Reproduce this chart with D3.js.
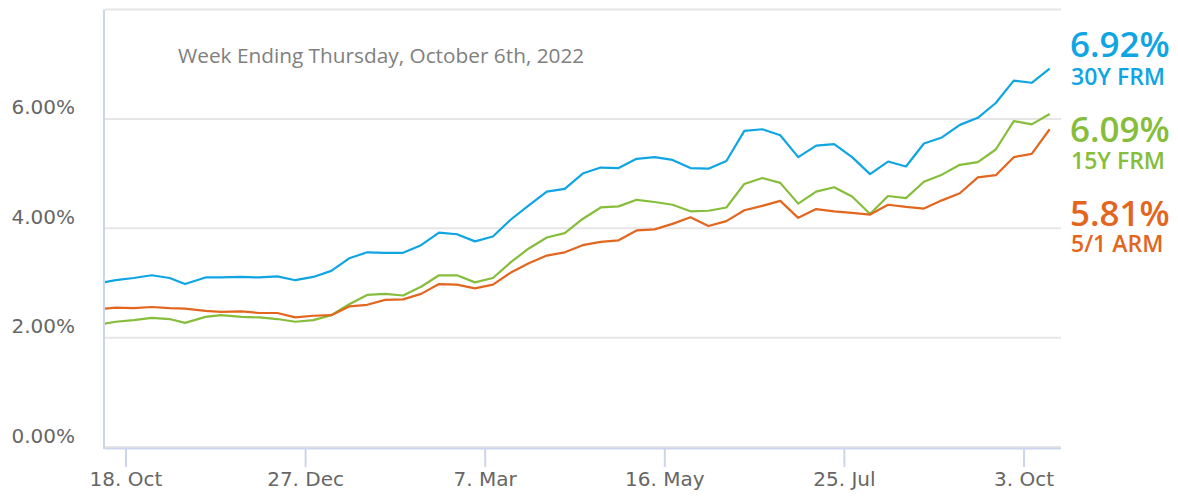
<!DOCTYPE html>
<html>
<head>
<meta charset="utf-8">
<script src="https://cdn.jsdelivr.net/npm/d3@7"></script>
<style>
  html, body { margin: 0; padding: 0; background: #fff; }
  svg { display: block; }
</style>
</head>
<body>
<svg id="chart" width="1178" height="500"></svg>
<script>
// ---- DATA ----
const dates = [
  "2021-10-07","2021-10-14","2021-10-21","2021-10-28","2021-11-04","2021-11-10","2021-11-18","2021-11-24",
  "2021-12-02","2021-12-09","2021-12-16","2021-12-23","2021-12-30","2022-01-06","2022-01-13","2022-01-20",
  "2022-01-27","2022-02-03","2022-02-10","2022-02-17","2022-02-24","2022-03-03","2022-03-10","2022-03-17",
  "2022-03-24","2022-03-31","2022-04-07","2022-04-14","2022-04-21","2022-04-28","2022-05-05","2022-05-12",
  "2022-05-19","2022-05-26","2022-06-02","2022-06-09","2022-06-16","2022-06-23","2022-06-30","2022-07-07",
  "2022-07-14","2022-07-21","2022-07-28","2022-08-04","2022-08-11","2022-08-18","2022-08-25","2022-09-01",
  "2022-09-08","2022-09-15","2022-09-22","2022-09-29","2022-10-06","2022-10-13"
];
const frm30 = [
  2.99,3.05,3.09,3.14,3.09,2.98,3.10,3.10,3.11,3.10,3.12,3.05,3.11,3.22,
  3.45,3.56,3.55,3.55,3.69,3.92,3.89,3.76,3.85,4.16,4.42,4.67,4.72,5.00,5.11,
  5.10,5.27,5.30,5.25,5.10,5.09,5.23,5.78,5.81,5.70,5.30,5.51,5.54,5.30,4.99,
  5.22,5.13,5.55,5.66,5.89,6.02,6.29,6.70,6.66,6.92
];
const frm15 = [
  2.23,2.29,2.32,2.36,2.34,2.27,2.38,2.41,2.38,2.37,2.34,2.29,2.32,2.41,
  2.61,2.78,2.80,2.77,2.93,3.14,3.14,3.01,3.09,3.38,3.63,3.83,3.91,4.17,4.38,
  4.40,4.52,4.48,4.43,4.31,4.32,4.38,4.81,4.92,4.83,4.45,4.67,4.75,4.58,4.26,
  4.59,4.55,4.85,4.98,5.16,5.21,5.44,5.96,5.90,6.09
];
const arm51 = [
  2.52,2.55,2.54,2.56,2.54,2.53,2.49,2.47,2.48,2.45,2.45,2.37,2.40,2.41,
  2.57,2.60,2.69,2.70,2.80,2.98,2.97,2.90,2.97,3.19,3.36,3.50,3.56,3.69,3.75,
  3.78,3.96,3.98,4.08,4.20,4.04,4.13,4.33,4.41,4.50,4.19,4.35,4.31,4.28,4.25,
  4.43,4.39,4.36,4.51,4.64,4.93,4.97,5.30,5.36,5.81
];
const seriesNames = ["30Y FRM", "15Y FRM", "5/1 ARM"];
const latestLabels = ["6.92%", "6.09%", "5.81%"];
const xTickDates = ["2021-10-18","2021-12-27","2022-03-07","2022-05-16","2022-07-25","2022-10-03"];
const xTickLabels = ["18. Oct","27. Dec","7. Mar","16. May","25. Jul","3. Oct"];
const yTicks = [0, 2, 4, 6, 8];
const yLabelTicks = [0, 2, 4, 6];
const titleText = "Week Ending Thursday, October 6th, 2022";

// ---- STYLE ----
const colors = ["#0fa5e3", "#86bd3b", "#e2661e"];
const plotLeft = 105, plotRight = 1061, plotTop = 9.5, plotBottom = 447;

const parse = d3.timeParse("%Y-%m-%d");
const svg = d3.select("#chart");

const x = d3.scaleTime()
  .domain([new Date(2021, 9, 9, 19, 35), new Date(2022, 9, 17, 10, 5)])
  .range([plotLeft, plotRight]);
const y = d3.scaleLinear().domain([0, 8]).range([plotBottom, plotTop]);

// gridlines
svg.append("g").selectAll("line").data(yTicks).join("line")
  .attr("x1", plotLeft).attr("x2", plotRight)
  .attr("y1", d => y(d)).attr("y2", d => y(d))
  .attr("stroke", "#e6e6e6").attr("stroke-width", 2);

// y labels
svg.append("g").selectAll("text").data(yLabelTicks).join("text")
  .attr("x", 75).attr("y", d => y(d) - 4.5)
  .attr("text-anchor", "end")
  .attr("font-family", "DejaVu Sans, sans-serif").attr("font-size", 20)
  .attr("fill", "#666666")
  .text(d => d3.format(".2f")(d) + "%");

// y axis line
svg.append("line").attr("x1", 104).attr("x2", 104).attr("y1", plotTop).attr("y2", plotBottom + 2)
  .attr("stroke", "#ccd6eb").attr("stroke-width", 2);

// x axis line
svg.append("line").attr("x1", plotLeft).attr("x2", plotRight).attr("y1", plotBottom + 1.5).attr("y2", plotBottom + 1.5)
  .attr("stroke", "#ccd6eb").attr("stroke-width", 2);

// x ticks + labels
const xg = svg.append("g");
xTickDates.forEach((d, i) => {
  const px = x(parse(d));
  xg.append("line").attr("x1", px).attr("x2", px).attr("y1", plotBottom + 2).attr("y2", 467)
    .attr("stroke", "#ccd6eb").attr("stroke-width", 2);
  xg.append("text").attr("x", px).attr("y", 486)
    .attr("text-anchor", "middle")
    .attr("font-family", "DejaVu Sans, sans-serif").attr("font-size", 20)
    .attr("fill", "#666666")
    .text(xTickLabels[i]);
});

// title
svg.append("text").attr("x", 178).attr("y", 63)
  .attr("font-family", "Open Sans, sans-serif").attr("font-size", 20.8)
  .attr("fill", "#808080")
  .text(titleText);

// clip
svg.append("defs").append("clipPath").attr("id", "plotclip")
  .append("rect").attr("x", plotLeft).attr("y", 0).attr("width", plotRight - plotLeft).attr("height", plotBottom);

const line = d3.line().x(d => x(d.date)).y(d => y(d.value));
const allSeries = [frm30, frm15, arm51];
const lg = svg.append("g").attr("clip-path", "url(#plotclip)");
allSeries.forEach((vals, i) => {
  const data = vals.map((v, j) => ({ date: parse(dates[j]), value: v }));
  lg.append("path").datum(data)
    .attr("d", line)
    .attr("fill", "none")
    .attr("stroke", colors[i])
    .attr("stroke-width", 2.2)
    .attr("stroke-linejoin", "round");
});

// right-side labels
const rateY = [57, 141.5, 225.5];
const nameY = [85, 168.5, 252];
seriesNames.forEach((n, i) => {
  svg.append("text").attr("x", 1070).attr("y", rateY[i])
    .attr("font-family", "Open Sans, sans-serif").attr("font-size", 35).attr("font-weight", 600)
    .attr("fill", colors[i]).text(latestLabels[i]);
  svg.append("text").attr("x", 1071).attr("y", nameY[i])
    .attr("font-family", "Open Sans, sans-serif").attr("font-size", 23).attr("font-weight", 600)
    .attr("fill", colors[i]).text(n);
});
</script>
</body>
</html>
